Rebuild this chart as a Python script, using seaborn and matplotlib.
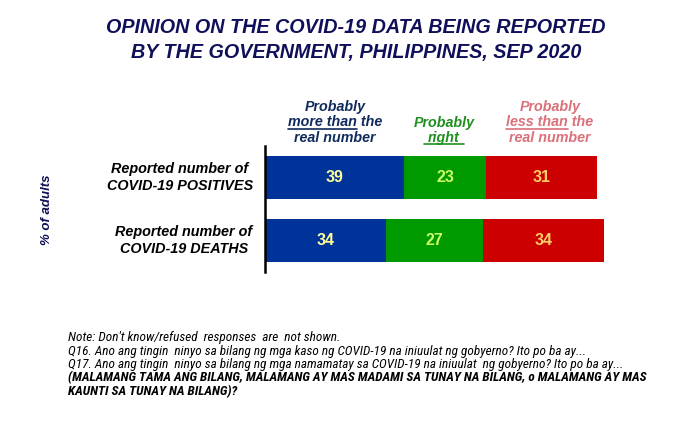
import matplotlib
matplotlib.use("Agg")
import matplotlib.pyplot as plt
import seaborn as sns
import pandas as pd
from matplotlib import font_manager as fm
from matplotlib.lines import Line2D
from matplotlib.transforms import blended_transform_factory

# ---------------- data ----------------
categories = ["Reported number of\nCOVID-19 POSITIVES", "Reported number of\nCOVID-19 DEATHS"]
more_than = [39, 34]
right = [23, 27]
less_than = [31, 34]

title_lines = ["OPINION ON THE COVID-19 DATA BEING REPORTED",
               "BY THE GOVERNMENT, PHILIPPINES, SEP 2020"]
header_lines = [["Probably", "more than the", "real number"],
                ["Probably", "right"],
                ["Probably", "less than the", "real number"]]
header_underline = ["more than", "right", "less than"]
note_lines = ["Note: Don't know/refused  responses  are  not shown.",
              "Q16. Ano ang tingin  ninyo sa bilang ng mga kaso ng COVID-19 na iniuulat ng gobyerno? Ito po ba ay...",
              "Q17. Ano ang tingin  ninyo sa bilang ng mga namamatay sa COVID-19 na iniuulat  ng gobyerno? Ito po ba ay...",
              "(MALAMANG TAMA ANG BILANG, MALAMANG AY MAS MADAMI SA TUNAY NA BILANG, o MALAMANG AY MAS",
              "KAUNTI SA TUNAY NA BILANG)?"]
ylabel = "% of adults"

# ---------------- style ----------------
bar_colors = ["#003399", "#009900", "#cc0000"]
num_colors = ["#ffff99", "#ccff66", "#ffcc66"]
head_colors = ["#0f2a5c", "#1f8f1f", "#d9707a"]
title_color = "#10105a"

sns.set_theme(style="white")
plt.rcParams["font.family"] = ["Liberation Sans", "DejaVu Sans"]


def pick(cands, default):
    for c in cands:
        try:
            fm.findfont(fm.FontProperties(family=c), fallback_to_default=False)
            return c
        except Exception:
            pass
    return default


narrow = pick(["Liberation Sans Narrow", "Arial Narrow", "Roboto Condensed",
               "Open Sans Condensed", "Noto Sans Condensed"], "Liberation Sans")

W, H = 698, 424
fig = plt.figure(figsize=(W / 100, H / 100), dpi=100)
ax = fig.add_axes([265 / W, 1 - 272 / H, 357 / W, 126 / H])

df = pd.DataFrame({"category": categories, "more": more_than,
                   "right": right, "less": less_than})
df["c1"] = df["more"]
df["c2"] = df["more"] + df["right"]
df["c3"] = df["c2"] + df["less"]

for col, colr in zip(["c3", "c2", "c1"], bar_colors[::-1]):
    sns.barplot(data=df, x=col, y="category", color=colr, saturation=1,
                width=0.68, orient="h", linewidth=0, ax=ax)

ax.set_xlim(0, 100)
ax.set_ylim(1.5, -0.5)
ax.set_xlabel("")
ax.set_ylabel("")
ax.set_xticks([])
ax.set_yticks([])
for s in ["top", "right", "bottom"]:
    ax.spines[s].set_visible(False)
ax.spines["left"].set_color("black")
ax.spines["left"].set_linewidth(1.8)

# values
for i in range(len(categories)):
    lefts = [0, more_than[i], more_than[i] + right[i]]
    vals = [more_than[i], right[i], less_than[i]]
    for l, v, c in zip(lefts, vals, num_colors):
        ax.text(l + v / 2, i, str(v), ha="center", va="center", color=c,
                fontsize=11.5, fontweight="bold")

# category labels
bt = blended_transform_factory(fig.transFigure, ax.transData)
label_x = [180, 184]
for i, cat in enumerate(categories):
    fig.text(label_x[i] / W, i, cat, transform=bt, ha="center", va="center",
             multialignment="center", fontsize=10.4, fontweight="bold",
             fontstyle="italic", color="black", linespacing=1.2)

fig.text(47 / W, 1 - 210 / H, ylabel, rotation=90, ha="center", va="center",
         fontsize=9.5, fontweight="bold", fontstyle="italic", color=title_color)

fig.canvas.draw()
r = fig.canvas.get_renderer()


def wpx(s, **kw):
    t = fig.text(0, 0, s, **kw)
    w = t.get_window_extent(r).width
    t.remove()
    return w


# title
tkw = dict(fontweight="bold", fontstyle="italic")
tsize = 13 * 498 / wpx(title_lines[0], fontsize=13, **tkw)
for y, line in zip([33, 58], title_lines):
    fig.text(356 / W, 1 - y / H, line, ha="center", va="baseline",
             fontsize=tsize, color=title_color, **tkw)

# headers
hkw = dict(fontsize=10.3, fontweight="bold", fontstyle="italic")
head_x = [335, 444, 550]
base3 = [111, 126.5, 142]
for k, lines in enumerate(header_lines):
    bases = base3[-len(lines):]
    for j, (line, yb) in enumerate(zip(lines, bases)):
        fig.text(head_x[k] / W, 1 - yb / H, line, ha="center", va="baseline",
                 color=head_colors[k], **hkw)
        u = header_underline[k]
        if line.startswith(u):
            wl = wpx(line, **hkw)
            wu = wpx(u, **hkw)
            x0 = head_x[k] - wl / 2
            x1 = x0 + wu
            if line == u:
                x0 -= 4
                x1 += 4
            yy = 1 - (yb + 2) / H
            fig.add_artist(Line2D([x0 / W, x1 / W], [yy, yy], color=head_colors[k],
                                  linewidth=1.2, transform=fig.transFigure))

# notes
nfam = [narrow, "DejaVu Sans"]
nkw = dict(family=nfam, fontstyle="italic", fontweight="bold")
nsize = 7.6 * 577 / wpx(note_lines[3], fontsize=7.6, **nkw)
weights = ["normal", "normal", "normal", "bold", "bold"]
for j, (line, wgt) in enumerate(zip(note_lines, weights)):
    fig.text(68 / W, 1 - (341 + 13.5 * j) / H, line, ha="left", va="baseline",
             fontsize=nsize, family=nfam, fontstyle="italic", fontweight=wgt,
             color="black")

fig.savefig("out.png", dpi=100, facecolor="white")
